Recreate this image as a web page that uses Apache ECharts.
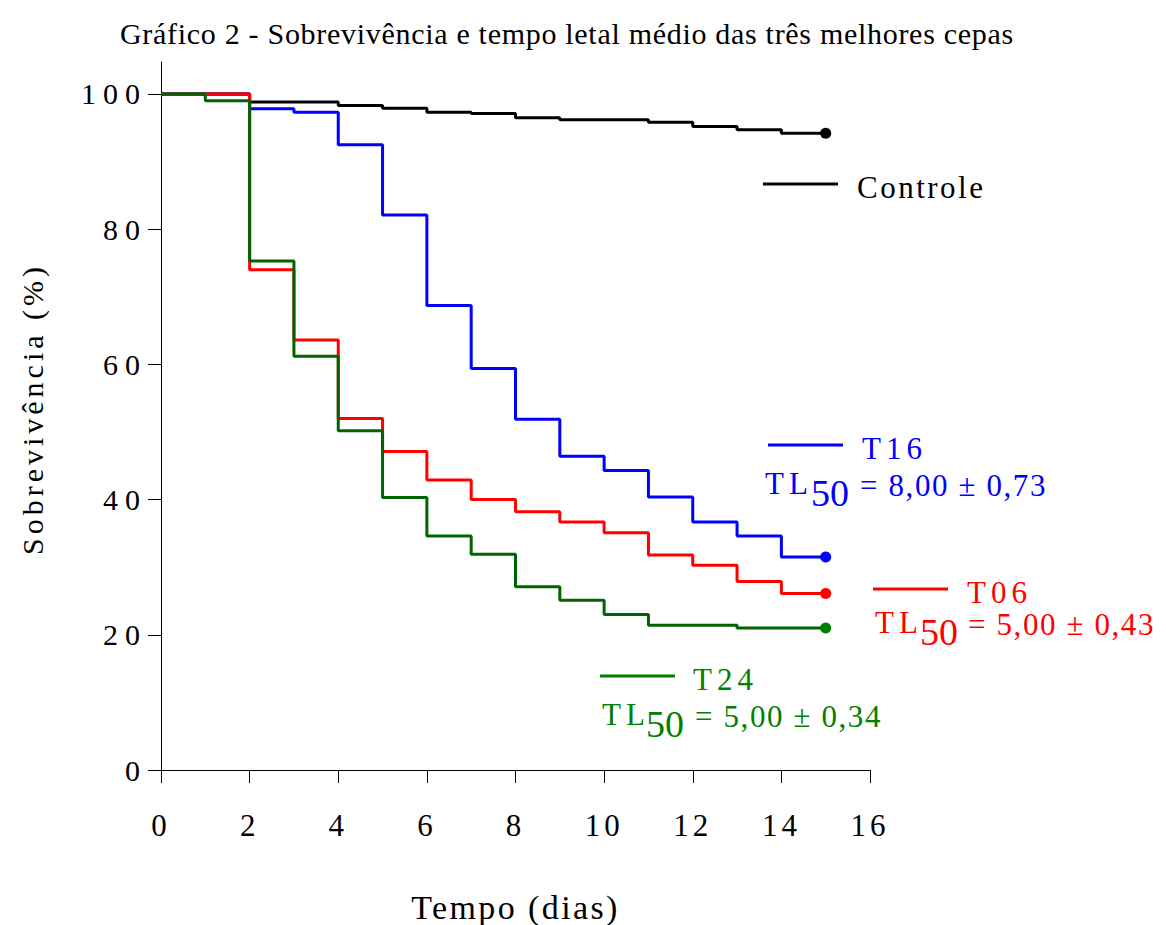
<!DOCTYPE html>
<html>
<head>
<meta charset="utf-8">
<script src="https://cdn.jsdelivr.net/npm/echarts@6/dist/echarts.min.js"></script>
<style>
  html, body { margin: 0; padding: 0; background: #fff; }
  #chart { width: 1166px; height: 925px; }
  #chart svg text { font-family: 'Liberation Serif', serif !important; }
</style>
</head>
<body>
<div id="chart"></div>
<script>
// Survival (%) at the start of each day, days 0..15
const days = [0, 1, 2, 3, 4, 5, 6, 7, 8, 9, 10, 11, 12, 13, 14, 15];
const controle = [100, 100, 98.8, 98.8, 98.3, 97.9, 97.3, 97.1, 96.5, 96.2, 96.2, 95.8, 95.2, 94.7, 94.2, 94.2];
const t16 = [100, 100, 97.8, 97.3, 92.5, 82.1, 68.7, 59.4, 51.9, 46.4, 44.3, 40.4, 36.7, 34.6, 31.5, 31.5];
const t06 = [100, 100, 74.0, 63.6, 52.0, 47.1, 42.9, 40.0, 38.2, 36.7, 35.1, 31.8, 30.3, 27.9, 26.1, 26.1];
const t24 = [100, 99.0, 75.3, 61.2, 50.2, 40.3, 34.6, 31.9, 27.1, 25.1, 23.0, 21.4, 21.4, 21.0, 21.0, 21.0];

const xTicks = [0, 2, 4, 6, 8, 10, 12, 14, 16];
const yTicks = [0, 20, 40, 60, 80, 100];

const titleText = 'Gráfico 2 - Sobrevivência e tempo letal médio das três melhores cepas';
const xName = 'Tempo (dias)';
const yName = 'Sobrevivência (%)';
const legendNames = ['Controle', 'T16', 'T06', 'T24'];
const tl50Texts = ['= 8,00 ± 0,73', '= 5,00 ± 0,43', '= 5,00 ± 0,34'];

const SERIF = 'Liberation Serif';

function pairs(vals) { return days.map((d, i) => [d, vals[i]]); }

function stepSeries(name, vals, lineColor, dotColor, z) {
  return {
    name: name,
    type: 'line',
    step: 'end',
    data: pairs(vals),
    z: z,
    lineStyle: { color: lineColor, width: 3 },
    showAllSymbol: true,
    symbol: 'circle',
    symbolSize: (v, p) => (p.dataIndex === days.length - 1 ? 11 : 0),
    itemStyle: { color: dotColor },
    emphasis: { disabled: true },
    animation: false
  };
}

function txt(x, y, text, size, color) {
  return {
    type: 'text', x: x, y: y, silent: true,
    style: { text: text, fontFamily: SERIF, fontSize: size, fill: color, align: 'left', verticalAlign: 'middle' }
  };
}
function seg(x1, x2, y, color) {
  return {
    type: 'line', silent: true,
    shape: { x1: x1, y1: y, x2: x2, y2: y },
    style: { stroke: color, lineWidth: 3 }
  };
}
// legend line + strain name, then "TL50 = ..." with a lowered, larger subscript
function tlBlock(lx, ly, name, nameX, nameY, tlX, tlY, subX, subY, eqX, eqY, eqText, color) {
  return [
    seg(lx, lx + 75, ly, color),
    txt(nameX, nameY, name, 31, color),
    txt(tlX, tlY, 'TL', 31, color),
    txt(subX, subY, '50', 38, color),
    txt(eqX, eqY, eqText, 31, color)
  ];
}

const chart = echarts.init(document.getElementById('chart'), null, { renderer: 'svg' });

const BLUE = '#0000ff', RED = '#ff0000', GREEN_LINE = '#006400', GREEN = '#008000';

chart.setOption({
  backgroundColor: '#ffffff',
  animation: false,
  title: {
    text: titleText,
    left: 115, top: 13,
    textStyle: { fontFamily: SERIF, fontSize: 30, fontWeight: 'normal', color: '#000' }
  },
  grid: { left: 161, top: 62, width: 709, height: 708, containLabel: false, outerBoundsMode: 'none' },
  xAxis: {
    type: 'value', min: 0, max: 16, interval: 2,
    name: xName, nameLocation: 'middle', nameGap: 120,
    nameTextStyle: { fontFamily: SERIF, fontSize: 34, color: '#000' },
    axisLine: { onZero: false, lineStyle: { color: '#000', width: 1 } },
    axisTick: { show: true, inside: false, length: 13, lineStyle: { color: '#000' }, customValues: xTicks },
    axisLabel: { margin: 40, fontFamily: SERIF, fontSize: 31, color: '#000', customValues: xTicks },
    splitLine: { show: false }
  },
  yAxis: {
    type: 'value', min: 0, max: 104.73,
    name: yName, nameLocation: 'middle', nameGap: 114, nameRotate: 90,
    nameTextStyle: { fontFamily: SERIF, fontSize: 30, color: '#000', padding: [0, 0, 0, 14] },
    axisLine: { show: true, onZero: false, lineStyle: { color: '#000', width: 1 } },
    axisTick: { show: true, inside: false, length: 13, lineStyle: { color: '#000' }, customValues: yTicks },
    axisLabel: { margin: 14, fontFamily: SERIF, fontSize: 30, color: '#000', customValues: yTicks },
    splitLine: { show: false }
  },
  series: [
    stepSeries(legendNames[0], controle, '#000000', '#000000', 2),
    stepSeries(legendNames[1], t16, BLUE, BLUE, 3),
    stepSeries(legendNames[2], t06, RED, RED, 4),
    stepSeries(legendNames[3], t24, GREEN_LINE, GREEN, 5)
  ],
  graphic: [
    seg(763, 838, 184, '#000000'),
    txt(857, 187, legendNames[0], 31, '#000000')
  ].concat(
    tlBlock(768, 445, legendNames[1], 862, 448, 765, 483, 811, 493, 860, 485, tl50Texts[0], BLUE),
    tlBlock(873, 589, legendNames[2], 967, 592, 875, 622, 920, 632, 968, 624, tl50Texts[1], RED),
    tlBlock(600, 676, legendNames[3], 693, 679, 602, 714, 646, 724, 695, 716, tl50Texts[2], GREEN)
  )
});

// Typeset spacing: the printed figure uses loosely tracked lettering
function applyTracking() {
  const root = document.getElementById('chart');
  const box = root.getBoundingClientRect();
  root.querySelectorAll('svg text').forEach(function (el) {
    const t = (el.textContent || '').trim();
    let s = null;
    if (t === titleText) s = 0.7;
    else if (t === legendNames[0]) s = 2.5;
    else if (legendNames.indexOf(t) > 0 || t === 'TL') s = 5;
    else if (t === '50') s = 0;
    else if (t.charAt(0) === '=') s = 1.6;
    else if (t === xName) s = 2.4;
    else if (t === yName) s = 4;
    else if (/^\d+$/.test(t)) {
      const r = el.getBoundingClientRect();
      s = (r.top + r.height / 2 - box.top > 790) ? 4 : 7;
    }
    if (s !== null) el.style.letterSpacing = s + 'px';
  });
}
chart.getZr().flush();
applyTracking();
chart.on('finished', applyTracking);
</script>
</body>
</html>
